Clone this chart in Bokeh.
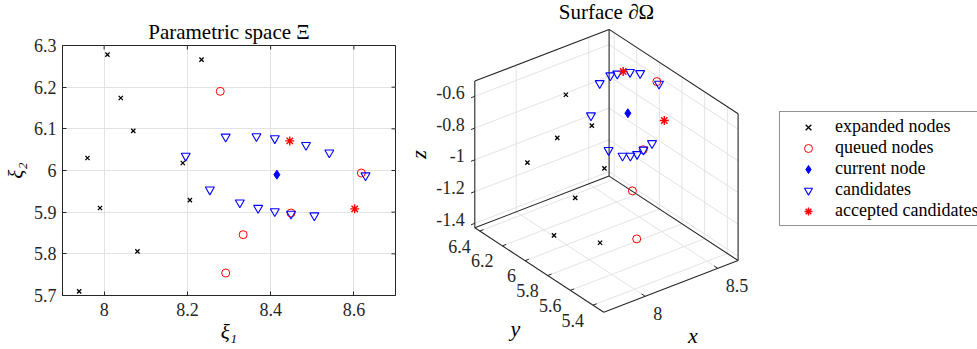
import numpy as np
from bokeh.plotting import figure
from bokeh.models import Range1d, Legend, LegendItem, FixedTicker
from bokeh.layouts import row
from bokeh.embed import file_html
from bokeh.resources import INLINE
from bokeh.core.properties import value

SERIF = "Liberation Serif"
AXC = "#262626"
GRIDC = "#e3e3e3"

# ---------------- parametric space (xi1, xi2) ----------------
exp_xi1 = [8.008, 8.234, 8.040, 8.070, 7.960, 8.189, 7.990, 8.206, 8.080, 7.940]
exp_xi2 = [6.278, 6.266, 6.174, 6.095, 6.030, 6.018, 5.910, 5.929, 5.806, 5.710]
que_xi1 = [8.279, 8.618, 8.449, 8.334, 8.292]
que_xi2 = [6.190, 5.994, 5.898, 5.846, 5.754]
cur_xi1 = [8.415]
cur_xi2 = [5.990]
cand_xi1 = [8.196, 8.292, 8.366, 8.410, 8.485, 8.541, 8.628, 8.254, 8.326, 8.370, 8.410, 8.449, 8.505]
cand_xi2 = [6.035, 6.081, 6.082, 6.077, 6.061, 6.043, 5.988, 5.954, 5.923, 5.910, 5.902, 5.896, 5.892]
acc_xi1 = [8.446, 8.602]
acc_xi2 = [6.071, 5.908]

xi1_ticks = [8.0, 8.2, 8.4, 8.6]
xi1_tick_labels = ["8", "8.2", "8.4", "8.6"]
xi2_ticks = [5.7, 5.8, 5.9, 6.0, 6.1, 6.2, 6.3]
xi2_tick_labels = ["5.7", "5.8", "5.9", "6", "6.1", "6.2", "6.3"]
XI1_LIM = (7.9, 8.7)
XI2_LIM = (5.7, 6.3)

# ---------------- surface points (x, y, z), visible ones ----------------
exp_x = [8.070, 8.189, 7.960, 8.206, 7.990, 8.080, 8.008, 7.940]
exp_y = [6.095, 6.018, 6.030, 5.929, 5.910, 5.806, 6.355, 6.033]
exp_z = [-0.552, -0.752, -0.755, -0.986, -1.087, -1.353, -1.079, -1.363]
que_x = [8.618, 8.449, 8.334, 8.292]
que_y = [5.994, 5.898, 5.846, 5.754]
que_z = [-0.615, -0.940, -1.134, -1.379]
cur_x = [8.415]
cur_y = [5.990]
cur_z = [-0.741]
cand_x = cand_xi1
cand_y = cand_xi2
cand_z = [-0.699, -0.551, -0.529, -0.531, -0.540, -0.558, -0.630,
          -0.900, -0.947, -0.956, -0.956, -0.939, -0.916]
acc_x = acc_xi1
acc_y = acc_xi2
acc_z = [-0.527, -0.814]

x_ticks3 = [8.0, 8.5]
x_tick_labels3 = ["8", "8.5"]
y_ticks3 = [5.4, 5.6, 5.8, 6.0, 6.2, 6.4]
y_tick_labels3 = ["5.4", "5.6", "5.8", "6", "6.2", "6.4"]
z_ticks3 = [-1.4, -1.2, -1.0, -0.8, -0.6]
z_tick_labels3 = ["-1.4", "-1.2", "-1", "-0.8", "-0.6"]

X_LIM = (7.715, 8.64)
Y_LIM = (5.305, 6.444)
Z_LIM = (-1.428, -0.504)

# screen basis of the unit cube (px, y up)
E_X = (134.3, 51.7)
E_Y = (-129.0, 84.4)
E_Z = (0.0, 146.7)


def proj(x, y, z):
    x = np.asarray(x, float); y = np.asarray(y, float); z = np.asarray(z, float)
    u = (x - X_LIM[0]) / (X_LIM[1] - X_LIM[0])
    v = (y - Y_LIM[0]) / (Y_LIM[1] - Y_LIM[0])
    w = (z - Z_LIM[0]) / (Z_LIM[1] - Z_LIM[0])
    return u * E_X[0] + v * E_Y[0] + w * E_Z[0], u * E_X[1] + v * E_Y[1] + w * E_Z[1]


STY = {
    "exp": dict(marker="x", size=6, line_color="black", line_width=1.3),
    "que": dict(marker="circle", size=8, line_color="red", fill_color=None, line_width=1),
    "cur": dict(marker="diamond", size=9, line_color="blue", fill_color="blue", line_width=1),
    "cand": dict(marker="inverted_triangle", size=9, line_color="blue", fill_color=None, line_width=1.1),
    "acc": dict(marker="asterisk", size=9, line_color="red", line_width=1.4),
}

TICK_SIZE = "18px"
TITLE_SIZE = "21px"

# ======================= left: parametric space =======================
p1 = figure(frame_width=333, frame_height=250, x_range=Range1d(*XI1_LIM), y_range=Range1d(*XI2_LIM),
            output_backend="svg", toolbar_location=None, frame_align=False,
            min_border_left=60, min_border_right=7, min_border_top=45, min_border_bottom=54)
p1.title.text = "Parametric space Ξ"
p1.title.align = "center"
p1.title.text_font = SERIF
p1.title.text_font_size = TITLE_SIZE
p1.title.text_font_style = "normal"
p1.title.text_color = "black"
p1.title.standoff = 3
p1.outline_line_color = AXC
p1.outline_line_alpha = 1.0

for ax, ticks, labels, lab in ((p1.xaxis[0], xi1_ticks, xi1_tick_labels, "ξ₁"),
                               (p1.yaxis[0], xi2_ticks, xi2_tick_labels, "ξ₂")):
    ax.ticker = FixedTicker(ticks=ticks)
    ax.major_label_overrides = {t: l for t, l in zip(ticks, labels)}
    ax.axis_label = lab
    ax.axis_label_text_font = SERIF
    ax.axis_label_text_font_size = "21px"
    ax.axis_label_text_font_style = "italic"
    ax.axis_label_text_color = "black"
    ax.major_label_text_font = SERIF
    ax.major_label_text_font_size = TICK_SIZE
    ax.major_label_text_font_style = "normal"
    ax.major_label_text_color = AXC
    ax.major_tick_in = 4
    ax.major_tick_out = 0
    ax.minor_tick_in = 0
    ax.minor_tick_out = 0
    ax.axis_line_color = AXC
    ax.major_tick_line_color = AXC
p1.xaxis.major_label_standoff = 7
p1.xaxis.axis_label_standoff = 1
p1.yaxis.major_label_standoff = 6
p1.yaxis.axis_label_standoff = 3

p1.xgrid.ticker = FixedTicker(ticks=xi1_ticks)
p1.ygrid.ticker = FixedTicker(ticks=xi2_ticks)
p1.grid.grid_line_color = GRIDC
p1.grid.grid_line_width = 1

# inward ticks on the right and top edges of the box (clipped half-dashes)
p1.scatter([XI1_LIM[1]] * len(xi2_ticks), xi2_ticks, marker="dash", size=8, line_color=AXC, line_width=1)
p1.scatter(xi1_ticks, [XI2_LIM[1]] * len(xi1_ticks), marker="dash", size=8, angle=np.pi / 2,
           line_color=AXC, line_width=1)

p1.scatter(exp_xi1, exp_xi2, **STY["exp"])
p1.scatter(que_xi1, que_xi2, **STY["que"])
p1.scatter(cur_xi1, cur_xi2, **STY["cur"])
p1.scatter(cand_xi1, cand_xi2, **STY["cand"])
p1.scatter(acc_xi1, acc_xi2, **STY["acc"])

# ======================= right: surface (3D) =======================
FX, FY = 601.3, 311.7          # page position of the front-bottom corner
p2 = figure(width=577, height=349,
            x_range=Range1d(400 - FX, 977 - FX), y_range=Range1d(FY - 349, FY),
            output_backend="svg", toolbar_location=None, frame_align=False,
            x_axis_type=None, y_axis_type=None, min_border=0)
p2.outline_line_color = None
p2.grid.visible = False

x0, x1 = X_LIM
y0, y1 = Y_LIM
z0, z1 = Z_LIM

# grid lines on the back walls and floor
gA, gB = [], []
for xt in x_ticks3:
    gA += [(xt, y1, z0), (xt, y0, z0)]; gB += [(xt, y1, z1), (xt, y1, z0)]
for yt in y_ticks3:
    gA += [(x1, yt, z0), (x0, yt, z0)]; gB += [(x1, yt, z1), (x1, yt, z0)]
for zt in z_ticks3:
    gA += [(x0, y1, zt), (x1, y0, zt)]; gB += [(x1, y1, zt), (x1, y1, zt)]
gA = np.array(gA); gB = np.array(gB)
ax_, ay_ = proj(gA[:, 0], gA[:, 1], gA[:, 2])
bx_, by_ = proj(gB[:, 0], gB[:, 1], gB[:, 2])
p2.segment(ax_, ay_, bx_, by_, line_color=GRIDC, line_width=1)

# box edges
edges = [((x0, y1, z0), (x0, y1, z1)), ((x1, y1, z0), (x1, y1, z1)), ((x1, y0, z0), (x1, y0, z1)),
         ((x0, y1, z1), (x1, y1, z1)), ((x1, y1, z1), (x1, y0, z1)),
         ((x0, y1, z0), (x1, y1, z0)), ((x1, y1, z0), (x1, y0, z0)),
         ((x0, y0, z0), (x0, y1, z0)), ((x0, y0, z0), (x1, y0, z0))]
eA = np.array([e[0] for e in edges]); eB = np.array([e[1] for e in edges])
ax_, ay_ = proj(eA[:, 0], eA[:, 1], eA[:, 2])
bx_, by_ = proj(eB[:, 0], eB[:, 1], eB[:, 2])
p2.segment(ax_, ay_, bx_, by_, line_color=AXC, line_width=1.1)

# tick marks
tl = 0.028
tA, tB = [], []
for xt in x_ticks3:
    tA.append((xt, y0, z0)); tB.append((xt, y0 + tl * (y1 - y0), z0))
for yt in y_ticks3:
    tA.append((x0, yt, z0)); tB.append((x0 + tl * (x1 - x0), yt, z0))
for zt in z_ticks3:
    tA.append((x0, y1, zt)); tB.append((x0 - tl * (x1 - x0), y1, zt))
tA = np.array(tA); tB = np.array(tB)
ax_, ay_ = proj(tA[:, 0], tA[:, 1], tA[:, 2])
bx_, by_ = proj(tB[:, 0], tB[:, 1], tB[:, 2])
p2.segment(ax_, ay_, bx_, by_, line_color=AXC, line_width=1)

# tick labels
lx, ly = proj(x_ticks3, [y0] * len(x_ticks3), [z0] * len(x_ticks3))
p2.text(lx, ly, text=x_tick_labels3, x_offset=8, y_offset=17, text_align="left",
        text_baseline="middle", text_font=value(SERIF), text_font_size=TICK_SIZE, text_color=AXC)
lx, ly = proj([x0] * len(y_ticks3), y_ticks3, [z0] * len(y_ticks3))
p2.text(lx, ly, text=y_tick_labels3, x_offset=-9, y_offset=15, text_align="right",
        text_baseline="middle", text_font=value(SERIF), text_font_size=TICK_SIZE, text_color=AXC)
lx, ly = proj([x0] * len(z_ticks3), [y1] * len(z_ticks3), z_ticks3)
p2.text(lx, ly, text=z_tick_labels3, x_offset=-10, y_offset=-4, text_align="right",
        text_baseline="middle", text_font=value(SERIF), text_font_size=TICK_SIZE, text_color=AXC)

# axis labels
mx, my = proj([(x0 + x1) / 2], [y0], [z0])
p2.text(mx, my, text=["x"], x_offset=22, y_offset=49, text_align="center", text_baseline="middle",
        text_font=value(SERIF), text_font_size="22px", text_font_style="italic", text_color="black")
mx, my = proj([x0], [(y0 + y1) / 2], [z0])
p2.text(mx, my, text=["y"], x_offset=-24, y_offset=58, text_align="center", text_baseline="middle",
        text_font=value(SERIF), text_font_size="22px", text_font_style="italic", text_color="black")
mx, my = proj([x0], [y1], [(z0 + z1) / 2])
p2.text(mx, my, text=["z"], x_offset=-56, y_offset=0, text_align="center", text_baseline="middle",
        angle=np.pi / 2, text_font=value(SERIF), text_font_size="22px", text_font_style="italic",
        text_color="black")

# title
cx = (proj([x0], [y1], [z1])[0][0] + proj([x1], [y0], [z1])[0][0]) / 2
ty = proj([x1], [y1], [z1])[1][0]
p2.text([cx], [ty], text=["Surface ∂Ω"], y_offset=-17, text_align="center", text_baseline="middle",
        text_font=value(SERIF), text_font_size=TITLE_SIZE, text_color="black")

# points
r_exp = p2.scatter(*proj(exp_x, exp_y, exp_z), **STY["exp"])
r_que = p2.scatter(*proj(que_x, que_y, que_z), **STY["que"])
r_cur = p2.scatter(*proj(cur_x, cur_y, cur_z), **STY["cur"])
r_cand = p2.scatter(*proj(cand_x, cand_y, cand_z), **STY["cand"])
r_acc = p2.scatter(*proj(acc_x, acc_y, acc_z), **STY["acc"])

legend = Legend(items=[LegendItem(label="expanded nodes", renderers=[r_exp]),
                       LegendItem(label="queued nodes", renderers=[r_que]),
                       LegendItem(label="current node", renderers=[r_cur]),
                       LegendItem(label="candidates", renderers=[r_cand]),
                       LegendItem(label="accepted candidates", renderers=[r_acc])],
                location=(377, 123), orientation="vertical",
                label_text_font=SERIF, label_text_font_size="18px", label_text_color="black",
                glyph_width=48, glyph_height=20, label_height=20, spacing=0,
                label_standoff=3, padding=4, margin=0,
                border_line_color=AXC, border_line_width=1, background_fill_color="white",
                background_fill_alpha=1.0)
p2.add_layout(legend, "center")

layout = row(p1, p2)
open("out.html", "w").write(file_html(layout, INLINE))
